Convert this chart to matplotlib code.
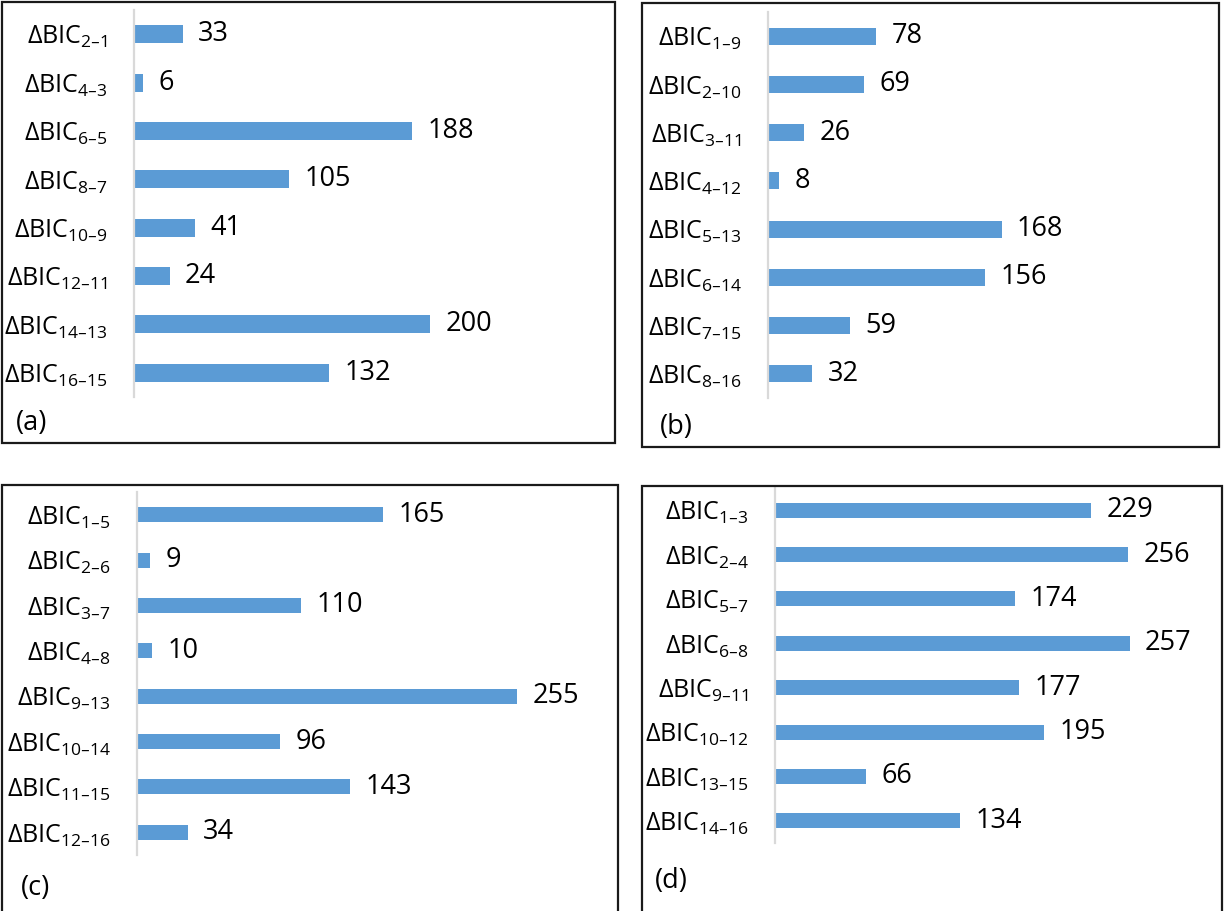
import matplotlib
matplotlib.use('Agg')
import matplotlib.pyplot as plt
from matplotlib.patches import Rectangle

plt.rcParams['font.family'] = ['Open Sans', 'DejaVu Sans']
plt.rcParams['mathtext.default'] = 'regular'

# BIC differences for the four model comparisons
labels_a = ['2–1', '4–3', '6–5', '8–7', '10–9', '12–11', '14–13', '16–15']
values_a = [33, 6, 188, 105, 41, 24, 200, 132]

labels_b = ['1–9', '2–10', '3–11', '4–12', '5–13', '6–14', '7–15', '8–16']
values_b = [78, 69, 26, 8, 168, 156, 59, 32]

labels_c = ['1–5', '2–6', '3–7', '4–8', '9–13', '10–14', '11–15', '12–16']
values_c = [165, 9, 110, 10, 255, 96, 143, 34]

labels_d = ['1–3', '2–4', '5–7', '6–8', '9–11', '10–12', '13–15', '14–16']
values_d = [229, 256, 174, 257, 177, 195, 66, 134]

W, H = 1225, 911
BAR = '#5B9BD5'
fig = plt.figure(figsize=(W / 100, H / 100), dpi=100)


def frac(x0, y0, x1, y1):
    # pixel box (top-left origin) -> figure fraction rect
    return [x0 / W, 1 - y1 / H, (x1 - x0) / W, (y1 - y0) / H]


def panel(box, ax_box, scale, bar_h, labels, values, tag, tag_xy):
    bx = frac(*box)
    fig.patches.append(Rectangle((bx[0], bx[1]), bx[2], bx[3], fill=False,
                                 edgecolor='#1a1a1a', linewidth=1.6,
                                 transform=fig.transFigure))
    ax = fig.add_axes(frac(*ax_box))
    ypos = list(range(len(values)))
    ax.barh(ypos, values, height=bar_h, color=BAR)
    ax.set_ylim(len(values) - 0.5, -0.5)
    ax.set_xlim(0, (ax_box[2] - ax_box[0]) / scale)
    ax.set_yticks(ypos)
    ax.set_yticklabels([r'$\mathregular{\Delta BIC_{%s}}$' % s for s in labels],
                       fontsize=18)
    ax.tick_params(axis='y', length=0, pad=19)
    ax.set_xticks([])
    for s in ['top', 'right', 'bottom']:
        ax.spines[s].set_visible(False)
    ax.spines['left'].set_color('#d9d9d9')
    ax.spines['left'].set_linewidth(1.6)
    for y, v in zip(ypos, values):
        ax.annotate(str(v), (v, y), xytext=(11, 0), textcoords='offset points',
                    ha='left', va='center', fontsize=19.5)
    fig.text(tag_xy[0] / W, 1 - tag_xy[1] / H, tag, fontsize=19.5,
             ha='left', va='center')
    return ax


panel((2, 2, 615, 443), (134, 10, 600, 397), 1.48, 0.37,
      labels_a, values_a, '(a)', (16, 423))
panel((642, 3, 1219, 447), (768, 12, 1205, 398), 1.39, 0.35,
      labels_b, values_b, '(b)', (660, 427))
panel((2, 485, 618, 930), (137, 492, 605, 855), 1.49, 0.33,
      labels_c, values_c, '(c)', (21, 888))
panel((642, 486, 1222, 930), (775, 488, 1210, 843), 1.38, 0.34,
      labels_d, values_d, '(d)', (655, 881))

fig.savefig('out.png', dpi=100)
